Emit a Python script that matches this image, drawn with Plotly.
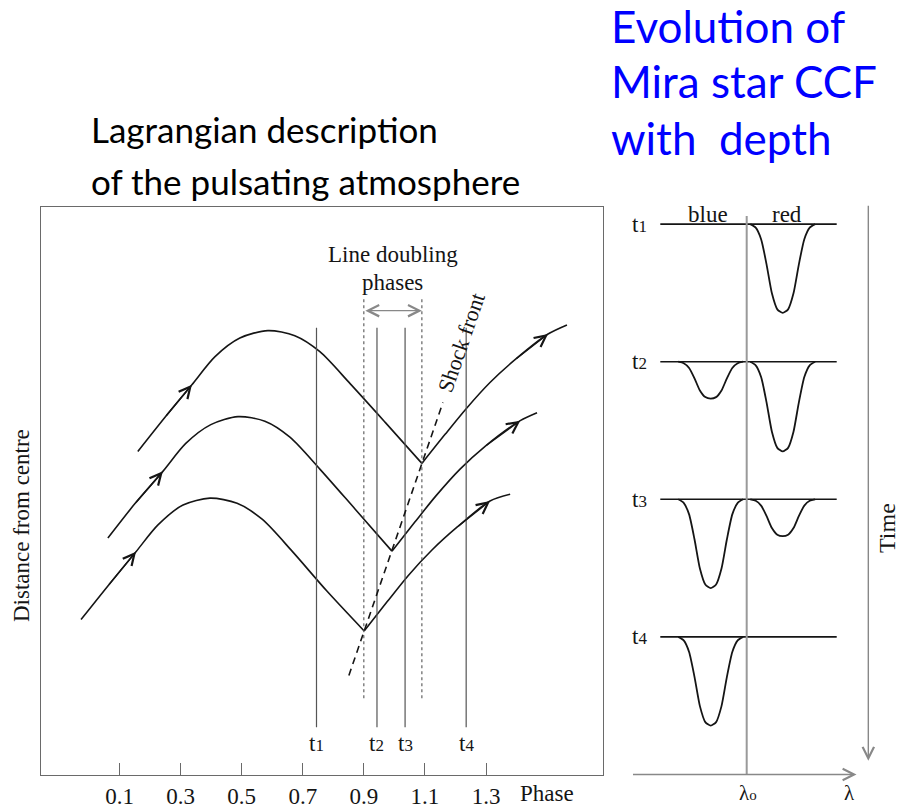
import plotly.graph_objects as go

W, H = 900, 809

# ---------------- left panel data: phase vs distance from centre (arbitrary units) -------------
top_arch_phase = [0.160, 0.249, 0.337, 0.412, 0.494, 0.586, 0.674, 0.756, 0.855, 0.970, 1.090]
top_arch_dist = [56.8, 62.8, 68.5, 73.4, 76.7, 78.0, 77.1, 74.3, 68.7, 61.9, 54.7]
top_rise_phase = [1.090, 1.166, 1.235, 1.313, 1.395, 1.503, 1.565]
top_rise_dist = [54.7, 59.8, 64.3, 68.9, 72.9, 77.4, 79.0]

mid_arch_phase = [0.062, 0.150, 0.242, 0.317, 0.399, 0.488, 0.576, 0.658, 0.756, 0.871, 0.992]
mid_arch_dist = [41.6, 47.6, 53.3, 58.2, 61.5, 62.9, 62.1, 59.3, 53.7, 46.7, 39.3]
mid_rise_phase = [0.992, 1.067, 1.136, 1.215, 1.297, 1.412, 1.467]
mid_rise_dist = [39.3, 44.4, 49.0, 53.7, 57.7, 62.2, 63.6]

bot_arch_phase = [-0.026, 0.062, 0.154, 0.226, 0.308, 0.396, 0.485, 0.567, 0.665, 0.779, 0.901]
bot_arch_dist = [27.3, 33.2, 39.2, 43.9, 47.4, 48.6, 47.7, 44.9, 39.3, 32.3, 25.3]
bot_rise_phase = [0.901, 0.976, 1.045, 1.123, 1.205, 1.313, 1.379]
bot_rise_dist = [25.3, 30.4, 35.0, 39.5, 43.5, 48.1, 49.3]

epoch_labels = ["t1", "t2", "t3", "t4"]
epoch_phase = [0.745, 0.943, 1.035, 1.235]
epoch_line_dist = [8.4, 78.5]
epoch_label_dist = 5.6

doubling_phase = [0.900, 1.090]
doubling_dist = [13.5, 83.7]
doubling_arrow_dist = 81.5

shock_phase = [0.851, 1.159]
shock_dist = [17.5, 65.4]

phase_ticks = [0.1, 0.3, 0.5, 0.7, 0.9, 1.1, 1.3]
phase_ticktext = ["0.1", "0.3", "0.5", "0.7", "0.9", "1.1", "1.3"]

# ---------------- right panel data: CCF profiles ---------------------------------------------
time_levels = [1, 2, 3, 4]
blue_depth = [0.0, 0.268, 0.645, 0.645]
red_depth = [0.645, 0.652, 0.268, 0.0]
blue_centre = -1.0
red_centre = 1.0
profile_offset = [-0.9, -0.75, -0.6, -0.45, -0.3, -0.15, 0.0, 0.15, 0.3, 0.45, 0.6, 0.75, 0.9]
profile_frac = [0.0, 0.04, 0.17, 0.45, 0.78, 0.96, 1.0, 0.96, 0.78, 0.45, 0.17, 0.04, 0.0]
baseline_lambda = [-2.4, 2.5]
lambda0_time = [0.94, 5.0]
lambda_axis = [-3.2, 3.05]
time_axis_lambda = 3.378
time_axis_range = [0.855, 4.9]

SERIF = "Liberation Serif, Times New Roman, serif"
BLACK = "#151515"
FS = 23

fig = go.Figure()

# pulsation curves
for ph, ds in [(top_arch_phase, top_arch_dist), (top_rise_phase, top_rise_dist),
               (mid_arch_phase, mid_arch_dist), (mid_rise_phase, mid_rise_dist),
               (bot_arch_phase, bot_arch_dist), (bot_rise_phase, bot_rise_dist)]:
    fig.add_trace(go.Scatter(x=ph, y=ds, mode="lines",
                             line=dict(color=BLACK, width=1.6, shape="spline", smoothing=0.8),
                             xaxis="x", yaxis="y", hoverinfo="skip"))

# epoch lines
for p in epoch_phase:
    fig.add_trace(go.Scatter(x=[p, p], y=epoch_line_dist, mode="lines",
                             line=dict(color="#555555", width=1.2), xaxis="x", yaxis="y"))
# line-doubling limits
for p in doubling_phase:
    fig.add_trace(go.Scatter(x=[p, p], y=doubling_dist, mode="lines",
                             line=dict(color="#555555", width=1.1, dash="3px,3px"), xaxis="x", yaxis="y"))
# shock front
fig.add_trace(go.Scatter(x=shock_phase, y=shock_dist, mode="lines",
                         line=dict(color=BLACK, width=1.6, dash="7px,5px"), xaxis="x", yaxis="y"))

# right panel: baselines and dips
for t, bd, rd in zip(time_levels, blue_depth, red_depth):
    fig.add_trace(go.Scatter(x=baseline_lambda, y=[t, t], mode="lines",
                             line=dict(color=BLACK, width=1.6), xaxis="x2", yaxis="y2"))
    for c, d in [(blue_centre, bd), (red_centre, rd)]:
        if d <= 0:
            continue
        fig.add_trace(go.Scatter(x=[c + o for o in profile_offset],
                                 y=[t + d * f for f in profile_frac], mode="lines",
                                 line=dict(color=BLACK, width=1.8, shape="spline", smoothing=0.6),
                                 xaxis="x2", yaxis="y2"))
# lambda_0 line
fig.add_trace(go.Scatter(x=[0, 0], y=lambda0_time, mode="lines",
                         line=dict(color="#9a9a9a", width=2), xaxis="x2", yaxis="y2"))

ann = []


def note(**kw):
    kw.setdefault("showarrow", False)
    kw.setdefault("xanchor", "center")
    kw.setdefault("yanchor", "middle")
    ann.append(kw)


# arrow heads on the curves
for ph, ds in [(top_arch_phase, top_arch_dist), (mid_arch_phase, mid_arch_dist), (bot_arch_phase, bot_arch_dist)]:
    ann.append(dict(x=ph[2], y=ds[2], ax=ph[1], ay=ds[1], xref="x", yref="y", axref="x", ayref="y",
                    text="", showarrow=True, arrowhead=5, arrowsize=1.6, arrowwidth=1.4, arrowcolor=BLACK))
for ph, ds in [(top_rise_phase, top_rise_dist), (mid_rise_phase, mid_rise_dist), (bot_rise_phase, bot_rise_dist)]:
    ann.append(dict(x=ph[-2], y=ds[-2], ax=ph[-3], ay=ds[-3], xref="x", yref="y", axref="x", ayref="y",
                    text="", showarrow=True, arrowhead=5, arrowsize=1.6, arrowwidth=1.4, arrowcolor=BLACK))
# double arrow for line doubling
ann.append(dict(x=doubling_phase[1], y=doubling_arrow_dist, ax=doubling_phase[0], ay=doubling_arrow_dist,
                xref="x", yref="y", axref="x", ayref="y", text="", showarrow=True,
                arrowhead=5, startarrowhead=5, arrowside="end+start", arrowsize=1.6, startarrowsize=1.6,
                arrowwidth=1.4, arrowcolor="#888888"))


def tlab(d):
    return "t<span style='font-size:17px'>" + d + "</span>"


# epoch labels
for lab, p in zip(epoch_labels, epoch_phase):
    note(x=p, y=epoch_label_dist, xref="x", yref="y", text=tlab(lab[1]),
         font=dict(family=SERIF, size=FS, color=BLACK))


def px(xp):
    return xp / W


def py(yp):
    return 1 - yp / H


note(x=0.5 * sum(doubling_phase), y=91.3, xref="x", yref="y",
     text="Line doubling", font=dict(family=SERIF, size=FS, color=BLACK))
note(x=0.5 * sum(doubling_phase), y=86.4, xref="x", yref="y",
     text="phases", font=dict(family=SERIF, size=FS, color=BLACK))
note(x=1.218, y=76.0, xref="x", yref="y", textangle=-71,
     text="Shock front", font=dict(family=SERIF, size=22, color=BLACK))
note(x=px(547), y=py(796), xref="paper", yref="paper",
     text="Phase", font=dict(family=SERIF, size=FS, color=BLACK))
note(x=px(21), y=py(528), xref="paper", yref="paper", textangle=-90,
     text="Distance from centre", font=dict(family=SERIF, size=FS, color=BLACK))

# right panel labels and arrows
for t, lab in zip(time_levels, epoch_labels):
    note(x=-2.99, y=t, xref="x2", yref="y2", text=tlab(lab[1]),
         font=dict(family=SERIF, size=FS, color=BLACK))
note(x=-1.075, y=0.93, xref="x2", yref="y2", text="blue",
     font=dict(family=SERIF, size=FS, color=BLACK))
note(x=1.11, y=0.93, xref="x2", yref="y2", text="red",
     font=dict(family=SERIF, size=FS, color=BLACK))
ann.append(dict(x=lambda_axis[1], y=5.0, ax=lambda_axis[0], ay=5.0, xref="x2", yref="y2", axref="x2", ayref="y2",
                text="", showarrow=True, arrowhead=5, arrowsize=1.6, arrowwidth=1.4, arrowcolor="#888888"))
ann.append(dict(x=time_axis_lambda, y=time_axis_range[1], ax=time_axis_lambda, ay=time_axis_range[0],
                xref="x2", yref="y2", axref="x2", ayref="y2",
                text="", showarrow=True, arrowhead=5, arrowsize=1.6, arrowwidth=1.4, arrowcolor="#888888"))
note(x=0.03, y=5.135, xref="x2", yref="y2",
     text="λ<span style='font-size:15px'>o</span>", font=dict(family=SERIF, size=21, color=BLACK))
note(x=2.86, y=5.135, xref="x2", yref="y2",
     text="λ", font=dict(family=SERIF, size=21, color=BLACK))
note(x=3.89, y=3.21, xref="x2", yref="y2", textangle=-90,
     text="Time", font=dict(family=SERIF, size=24, color=BLACK))

# titles
TITLE = "Lato, Carlito, Calibri, sans-serif"
note(x=px(89), y=py(129), xref="paper", yref="paper", xanchor="left",
     text="Lagrangian description", font=dict(family=TITLE, size=35, color="#000000"))
note(x=px(89), y=py(182), xref="paper", yref="paper", xanchor="left",
     text="of the pulsating atmosphere", font=dict(family=TITLE, size=35, color="#000000"))
for txt, yc in [("Evolution of", 26), ("Mira star CCF", 81), ("with\u00a0 depth", 139)]:
    note(x=px(609), y=py(yc), xref="paper", yref="paper", xanchor="left",
         text=txt, font=dict(family=TITLE, size=44, color="#0000ff"))

L_TOP, L_BOT, L_LEFT, L_RIGHT = 208, 778, 41, 603
fig.update_layout(
    width=W, height=H, margin=dict(l=0, r=0, t=0, b=0),
    paper_bgcolor="white", plot_bgcolor="rgba(0,0,0,0)", showlegend=False,
    xaxis=dict(domain=[L_LEFT / W, L_RIGHT / W], range=[-0.157, 1.683], showgrid=False, zeroline=False,
               showline=True, mirror=True, linecolor="#6a6a6a", linewidth=1.3,
               ticks="inside", ticklen=12, tickwidth=1.4, tickcolor="#6a6a6a",
               tickvals=phase_ticks, ticktext=phase_ticktext,
               tickfont=dict(family=SERIF, size=FS, color=BLACK), fixedrange=True),
    yaxis=dict(domain=[1 - L_BOT / H, 1 - L_TOP / H], range=[0, (L_BOT - L_TOP) / 5.72], showgrid=False,
               zeroline=False, showline=True, mirror=True, linecolor="#6a6a6a", linewidth=1.3,
               showticklabels=False, ticks="", fixedrange=True),
    xaxis2=dict(domain=[610 / W, 1.0], range=[-3.797, 4.258], visible=False, fixedrange=True, anchor="y2"),
    yaxis2=dict(domain=[0, 1], range=[5.229, -0.629], visible=False, fixedrange=True, anchor="x2"),
    annotations=ann,
)

fig.write_html("out.html")
